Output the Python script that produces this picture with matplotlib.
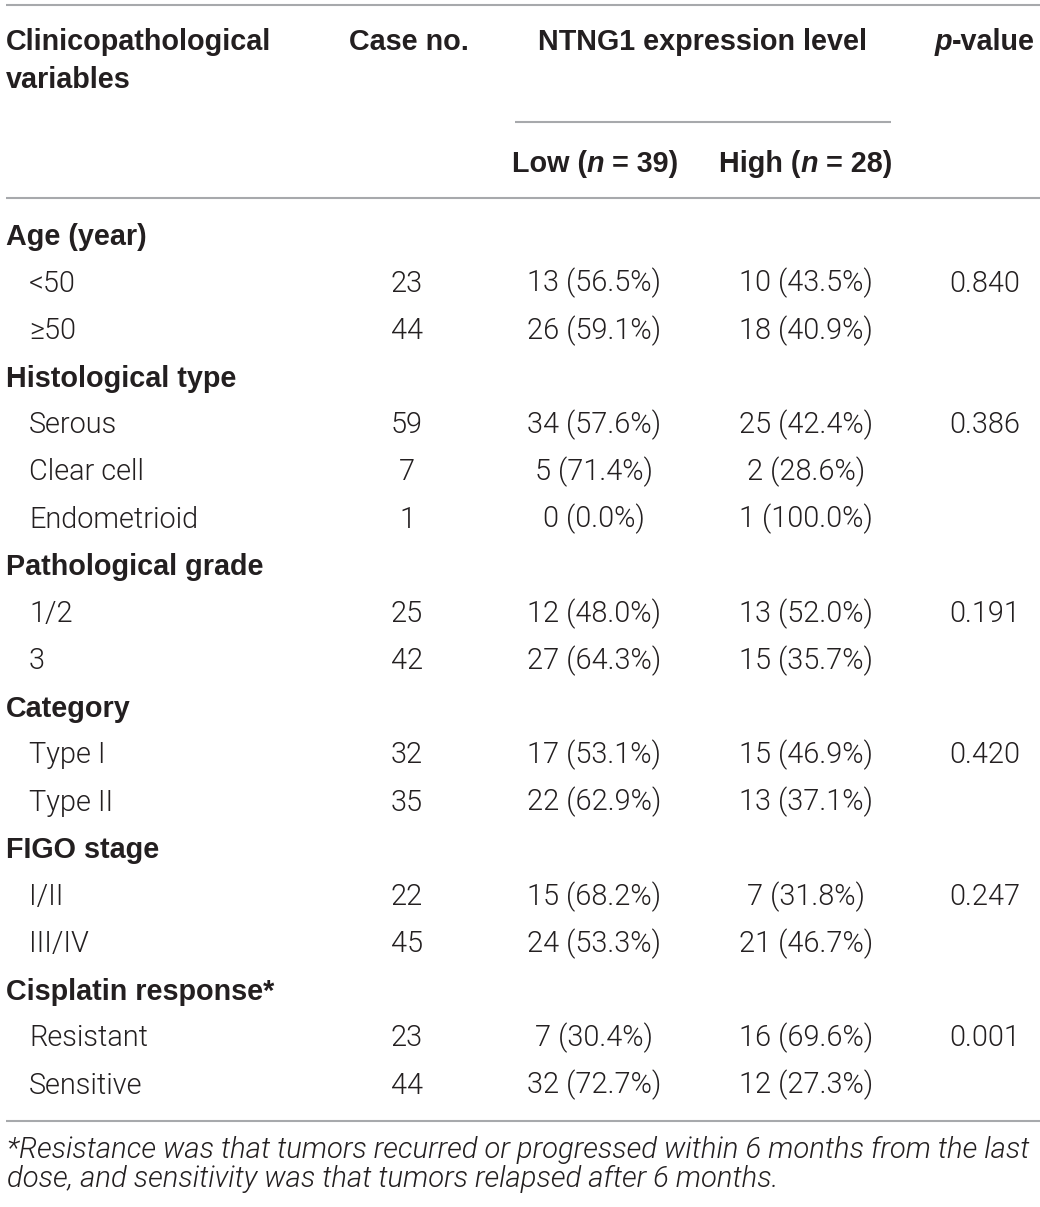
import matplotlib
matplotlib.use("Agg")
import matplotlib.pyplot as plt
from matplotlib import font_manager

# ---------------- data ----------------
groups = ["Age (year)", "Histological type", "Pathological grade",
          "Category", "FIGO stage", "Cisplatin response*"]
sub_labels = [["<50", "\u226550"],
              ["Serous", "Clear cell", "Endometrioid"],
              ["1/2", "3"],
              ["Type I", "Type II"],
              ["I/II", "III/IV"],
              ["Resistant", "Sensitive"]]
case_no = [[23, 44], [59, 7, 1], [25, 42], [32, 35], [22, 45], [23, 44]]
low_n = [[13, 26], [34, 5, 0], [12, 27], [17, 22], [15, 24], [7, 32]]
low_pct = [[56.5, 59.1], [57.6, 71.4, 0.0], [48.0, 64.3], [53.1, 62.9], [68.2, 53.3], [30.4, 72.7]]
high_n = [[10, 18], [25, 2, 1], [13, 15], [15, 13], [7, 21], [16, 12]]
high_pct = [[43.5, 40.9], [42.4, 28.6, 100.0], [52.0, 35.7], [46.9, 37.1], [31.8, 46.7], [69.6, 27.3]]
p_values = ["0.840", "0.386", "0.191", "0.420", "0.247", "0.001"]
low_total = 39
high_total = 28
footnote = ["*Resistance was that tumors recurred or progressed within 6 months from the last",
            "dose, and sensitivity was that tumors relapsed after 6 months."]

# ---------------- style ----------------
W, H = 1040, 1207
TXT = "#231f20"
LINE = "#a7a9ac"
FONT = "Liberation Sans"
HEAD = 20.7

# light body font if available
names = {f.name for f in font_manager.fontManager.ttflist}
light_ok = any(f.name == "Roboto" and f.weight in (300, "light") for f in font_manager.fontManager.ttflist)
if light_ok:
    BFONT, BWEIGHT = ["Roboto", "DejaVu Sans"], 300
else:
    BFONT, BWEIGHT = ["Liberation Sans", "DejaVu Sans"], "normal"

fig = plt.figure(figsize=(W / 100, H / 100), dpi=100)
ax = fig.add_axes([0, 0, 1, 1])
ax.set_xlim(0, W)
ax.set_ylim(H, 0)
ax.axis("off")
renderer = fig.canvas.get_renderer()

# fit body size so a reference cell has the reference width (134 px)
probe = ax.text(0, 0, "13 (56.5%)", fontsize=18, family=BFONT, fontweight=BWEIGHT)
BODY = 18 * 134 / probe.get_window_extent(renderer).width
probe.remove()


def runs(x, y, parts, ha="left", size=HEAD):
    """draw consecutive text runs; parts = [(text, weight, style)]"""
    arts = []
    widths = []
    for t, w, s in parts:
        a = ax.text(0, y, t, fontsize=size, fontweight=w, fontstyle=s,
                    family=FONT, color=TXT, va="baseline", ha="left")
        arts.append(a)
        widths.append(a.get_window_extent(renderer).width)
    total = sum(widths)
    if ha == "center":
        x0 = x - total / 2
    elif ha == "right":
        x0 = x - total
    else:
        x0 = x
    for a, w in zip(arts, widths):
        a.set_x(x0)
        x0 += w


def body(x, y, s, ha):
    ax.text(x, y, s, fontsize=BODY, family=BFONT, fontweight=BWEIGHT, color=TXT,
            va="baseline", ha=ha)


# lines
ax.hlines([5, 198, 1120.5], 6, 1040, color=LINE, lw=1.5)
ax.hlines(122, 515, 891, color=LINE, lw=1.5)

# header
runs(6, 49.5, [("Clinicopathological", "bold", "normal")])
runs(6, 88.5, [("variables", "bold", "normal")])
runs(409, 49.5, [("Case no.", "bold", "normal")], ha="center")
runs(703, 49.5, [("NTNG1 expression level", "bold", "normal")], ha="center")
runs(1035, 49.5, [("p", "bold", "italic"), ("-value", "bold", "normal")], ha="right")
runs(595, 171.5, [("Low (", "bold", "normal"), ("n", "bold", "italic"),
                  (f" = {low_total})", "bold", "normal")], ha="center")
runs(806, 171.5, [("High (", "bold", "normal"), ("n", "bold", "italic"),
                  (f" = {high_total})", "bold", "normal")], ha="center")

# body
x_case, x_low, x_high, x_p = 407, 594, 806, 985
row = 0
step = 47.17
for g, gname in enumerate(groups):
    yb = 245 + row * step
    ax.text(6, yb, gname, fontsize=HEAD, fontweight="bold", family=FONT,
            color=TXT, va="baseline", ha="left")
    row += 1
    for k, lab in enumerate(sub_labels[g]):
        yb = 244.5 + row * step
        body(29, yb, lab, "left")
        body(x_case, yb, str(case_no[g][k]), "center")
        body(x_low, yb, f"{low_n[g][k]} ({low_pct[g][k]:.1f}%)", "center")
        body(x_high, yb, f"{high_n[g][k]} ({high_pct[g][k]:.1f}%)", "center")
        if k == 0:
            body(x_p, yb, p_values[g], "center")
        row += 1

# footnote, fitted to the full width of the first line
fn = ax.text(7, 1158, footnote[0], fontsize=BODY, fontstyle="italic", family=BFONT,
             fontweight=BWEIGHT, color=TXT, va="baseline", ha="left")
fsize = BODY * (1026 / fn.get_window_extent(renderer).width)
fn.set_fontsize(fsize)
ax.text(7, 1187, footnote[1], fontsize=fsize, fontstyle="italic", family=BFONT,
        fontweight=BWEIGHT, color=TXT, va="baseline", ha="left")

fig.savefig("out.png", dpi=100, facecolor="white")
